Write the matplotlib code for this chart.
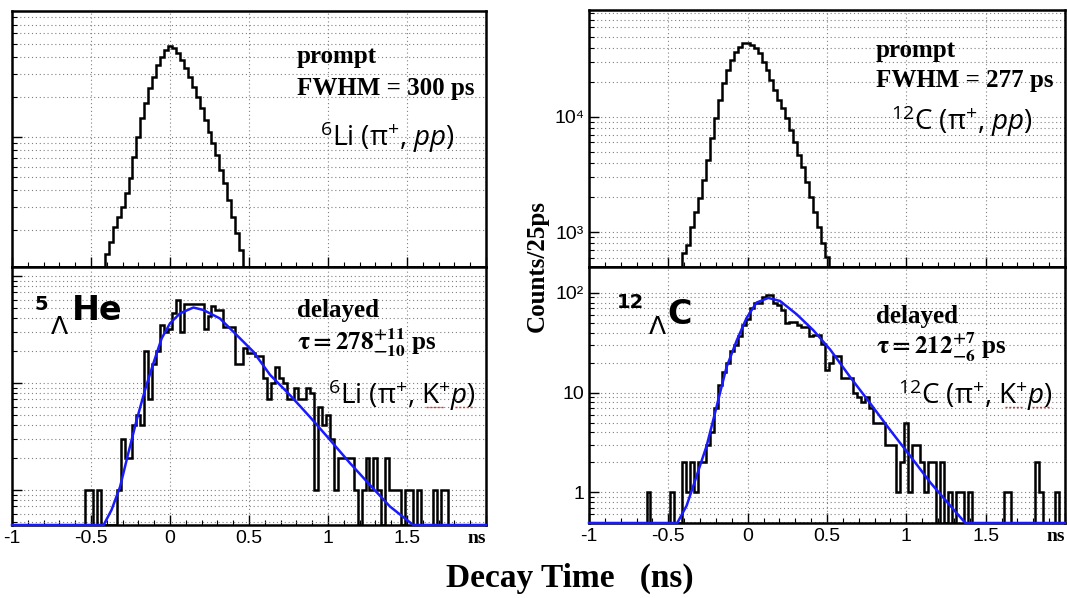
import numpy as np
import matplotlib.pyplot as plt
from matplotlib.lines import Line2D
from matplotlib.ticker import MultipleLocator, FixedLocator, FixedFormatter, LogLocator, NullFormatter

plt.rcParams['mathtext.fontset'] = 'custom'
plt.rcParams['mathtext.rm'] = 'Open Sans'
plt.rcParams['mathtext.it'] = 'Open Sans:italic'
plt.rcParams['mathtext.bf'] = 'Open Sans:bold'

# decay-time histograms, 25 ps bins centred on multiples of 0.025 ns
bin_width = 0.025
x_ticks = [-1, -0.5, 0, 0.5, 1, 1.5, 2]
x_labels = ['-1', '-0.5', '0', '0.5', '1', '1.5', 'ns']

li6_prompt_start = -0.4
li6_prompt = [1330, 1630, 2120, 2520, 2990, 3770, 4880, 7110, 10060, 13800, 17900,
              23200, 28400, 34800, 40200, 45100, 48300, 46400, 42600, 37900, 32900,
              28400, 23900, 20100, 16400, 13400, 10970, 8970, 7330, 5650, 4490, 3360,
              2520, 1890, 1410]

c12_prompt_start = -0.4
c12_prompt = [653, 771, 1110, 1500, 1960, 2830, 4230, 6520, 9730, 14060, 19630, 25640,
              31330, 37000, 40900, 44340, 44340, 42300, 39560, 35800, 30270, 25640,
              20990, 17180, 14060, 11890, 9730, 7710, 6100, 4680, 3710, 2740, 2030,
              1500, 1110, 800, 610]

he5_start = -0.525
he5_delayed = [1, 1, 0, 1, 0, 0, 0, 0,
               1, 3, 2, 2, 4, 5, 4, 20, 7, 15, 20, 35,
               30, 32, 45, 60, 30, 55, 55, 55, 55, 55, 32, 42,
               52, 48, 48, 33, 33, 33, 15, 15, 21, 19, 19, 18,
               18, 11, 7, 10, 14, 11, 10, 7, 7, 9, 7, 7,
               9, 8, 1, 6, 4, 5, 3, 1, 2, 2, 2, 2,
               1, 0, 1, 2, 1, 2, 1, 0, 2, 1, 1, 1,
               0, 1, 1, 0, 1, 0, 0, 0, 1, 0, 1, 1]

c12_start = -0.625
c12_delayed = [1, 0, 0, 0, 0, 0, 1, 0, 0, 2, 1, 2,
               1, 2, 2, 3, 4, 7, 12, 16, 20, 26, 30, 37,
               48, 55, 70, 80, 80, 90, 95, 95, 80, 75, 68, 50,
               51, 51, 48, 45, 45, 37, 38, 38, 31, 17, 20, 23,
               23, 14, 14, 14, 10, 9, 8, 9, 7, 5, 5, 5,
               3, 3, 3, 1, 2, 5, 1, 3, 3, 2, 1, 2,
               2, 0, 2, 0, 1, 0, 1, 1, 0, 1, 0, 0,
               0, 0, 0, 0, 0, 0, 1, 1, 0, 0, 0, 0,
               0, 0, 2, 1, 0, 0, 0, 1]

# fitted curves
he5_fit_t = [-0.42, -0.37, -0.316, -0.264, -0.211, -0.158, -0.105, -0.053, 0.0, 0.063,
             0.148, 0.211, 0.316, 0.422, 0.527, 0.633, 0.759, 0.886, 1.013, 1.139,
             1.266, 1.392, 1.54]
he5_fit = [0.47, 0.65, 1.07, 2.2, 4.5, 8.6, 15.3, 26, 36, 44.6, 50.6, 48, 40, 28, 19.6,
           11.9, 7.7, 4.8, 2.93, 1.78, 1.11, 0.70, 0.47]

c12_fit_t = [-0.444, -0.385, -0.343, -0.301, -0.259, -0.217, -0.175, -0.133, -0.07,
             -0.007, 0.056, 0.13, 0.204, 0.309, 0.415, 0.52, 0.646, 0.772, 0.898,
             1.025, 1.151, 1.277, 1.372]
c12_fit = [0.49, 0.73, 1.15, 1.83, 2.9, 5.3, 9.8, 18, 33, 56, 80, 89, 83, 61, 42, 27,
           14.3, 7.8, 4.2, 2.3, 1.25, 0.73, 0.49]

W, H = 1067, 598
edges = -1 - bin_width / 2 + bin_width * np.arange(122)


def full_hist(start, counts):
    vals = np.zeros(121)
    i0 = int(round((start + 1) / bin_width))
    vals[i0:i0 + len(counts)] = counts
    return vals


def px(x, y):
    return x / W, 1 - y / H


def setup(ax, ylim, show_x):
    ax.set_yscale('log')
    ax.set_xlim(-1, 2)
    ax.set_ylim(*ylim)
    ax.set_axisbelow(True)
    for s in ax.spines.values():
        s.set_linewidth(1.8)
    ax.xaxis.set_major_locator(FixedLocator(x_ticks))
    ax.xaxis.set_minor_locator(MultipleLocator(0.1))
    ax.yaxis.set_minor_locator(LogLocator(base=10, subs=range(2, 10)))
    ax.yaxis.set_minor_formatter(NullFormatter())
    ax.tick_params(which='both', direction='in', top=False, right=False)
    ax.tick_params(which='major', length=7, width=1)
    ax.tick_params(which='minor', length=3.5, width=0.8)
    ax.grid(True, axis='y', which='both', color='0.5', linestyle=(0, (1, 2.5)), lw=0.8)
    ax.grid(True, axis='x', which='major', color='0.5', linestyle=(0, (1, 2.5)), lw=0.8)
    if show_x:
        ax.set_xticklabels(x_labels, fontsize=14, family='Liberation Sans')
        lab = ax.get_xticklabels()[-1]
        lab.set_fontfamily('Liberation Serif')
        lab.set_fontweight('bold')
        lab.set_fontsize(14)
        lab.set_horizontalalignment('right')
    else:
        ax.tick_params(axis='x', labelbottom=False)


def draw_hist(ax, start, counts):
    lo = ax.get_ylim()[0]
    vals = np.maximum(full_hist(start, counts), lo)
    ax.stairs(vals, edges, baseline=None, color='black', lw=1.8, zorder=3)


def draw_fit(ax, t, y):
    lo = ax.get_ylim()[0]
    tt = [-1] + list(t) + [2]
    yy = np.maximum([lo] + list(y) + [lo], lo)
    ax.plot(tt, yy, color='#1a1aff', lw=1.8, zorder=6, clip_on=False)


def squiggle(x0, x1, y):
    # red spell-check underline left in the original slide
    fig.add_artist(Line2D([x0 / W, x1 / W], [1 - y / H, 1 - y / H], color='#e03030',
                          lw=1.0, linestyle=(0, (1.5, 1.2)), transform=fig.transFigure))


fig = plt.figure(figsize=(W / 100, H / 100), dpi=100)

ax_lt = fig.add_axes([12 / W, 1 - 267 / H, 474 / W, 256 / H])
ax_lb = fig.add_axes([12 / W, 1 - 525 / H, 474 / W, 258 / H])
ax_rt = fig.add_axes([589 / W, 1 - 267 / H, 476 / W, 257 / H])
ax_rb = fig.add_axes([589 / W, 1 - 523 / H, 476 / W, 256 / H])

setup(ax_lt, (1054, 88500), False)
setup(ax_lb, (0.47, 121), True)
setup(ax_rt, (497, 85000), False)
setup(ax_rb, (0.49, 182), True)

for ax in (ax_lt, ax_lb):
    ax.tick_params(axis='y', labelleft=False)

ax_rt.yaxis.set_major_locator(FixedLocator([1e3, 1e4]))
ax_rt.yaxis.set_major_formatter(FixedFormatter(['10³', '10⁴']))
ax_rb.yaxis.set_major_locator(FixedLocator([1, 10, 100]))
ax_rb.yaxis.set_major_formatter(FixedFormatter(['1', '10', '10²']))
for ax in (ax_rt, ax_rb):
    for lab in ax.get_yticklabels():
        lab.set_fontfamily(['Liberation Sans', 'DejaVu Sans'])
        lab.set_fontsize(14)

draw_hist(ax_lt, li6_prompt_start, li6_prompt)
draw_hist(ax_rt, c12_prompt_start, c12_prompt)
draw_hist(ax_lb, he5_start, he5_delayed)
draw_hist(ax_rb, c12_start, c12_delayed)
draw_fit(ax_lb, he5_fit_t, he5_fit)
draw_fit(ax_rb, c12_fit_t, c12_fit)

serif = dict(family='Liberation Serif', weight='bold', fontsize=18, ha='left', va='center')
sans = dict(family='Open Sans', fontsize=20, ha='left', va='center')
big = dict(family='DejaVu Sans', va='center')

# left panels
fig.text(*px(297, 57), 'prompt', **serif)
fig.text(*px(297, 89), 'FWHM = 300 ps', **serif)
fig.text(*px(320, 137), r'$^{6}$Li ($\mathrm{\pi}^{+}$, $pp$)', **sans)
fig.text(*px(297, 310), 'delayed', **serif)
fig.text(*px(297, 343), r'$\mathbf{\tau = 278^{+11}_{-10}}$ ps', math_fontfamily='stix', **serif)
fig.text(*px(328, 395), r'$^{6}$Li ($\mathrm{\pi}^{+}$, K$^{+}$$p$)', **sans)
squiggle(426, 444, 407)
squiggle(455, 474, 407)
fig.text(*px(41, 305), '5', fontsize=14, ha='center', weight='bold', **big)
fig.text(*px(59, 327), 'Λ', fontsize=18, ha='center', **big)
fig.text(*px(72, 311), 'He', fontsize=24, ha='left', weight='bold', **big)

# right panels
fig.text(*px(876, 50), 'prompt', **serif)
fig.text(*px(876, 80), 'FWHM = 277 ps', **serif)
fig.text(*px(891, 121), r'$^{12}$C ($\mathrm{\pi}^{+}$, $pp$)', **sans)
fig.text(*px(876, 317), 'delayed', **serif)
fig.text(*px(876, 347), r'$\mathbf{\tau = 212^{+7}_{-6}}$ ps', math_fontfamily='stix', **serif)
fig.text(*px(898, 395), r'$^{12}$C ($\mathrm{\pi}^{+}$, K$^{+}$$p$)', **sans)
squiggle(1005, 1023, 407)
squiggle(1032, 1051, 407)
fig.text(*px(630, 303), '12', fontsize=14, ha='center', weight='bold', **big)
fig.text(*px(657, 327), 'Λ', fontsize=18, ha='center', **big)
fig.text(*px(667, 314), 'C', fontsize=24, ha='left', weight='bold', **big)

fig.text(*px(537, 266), 'Counts/25ps', rotation=90, family='Liberation Serif',
         weight='bold', fontsize=18, ha='center', va='center')
fig.text(*px(570, 578), 'Decay Time   (ns)', family='Liberation Serif',
         weight='bold', fontsize=24, ha='center', va='center')

fig.savefig('out.png', dpi=100)
